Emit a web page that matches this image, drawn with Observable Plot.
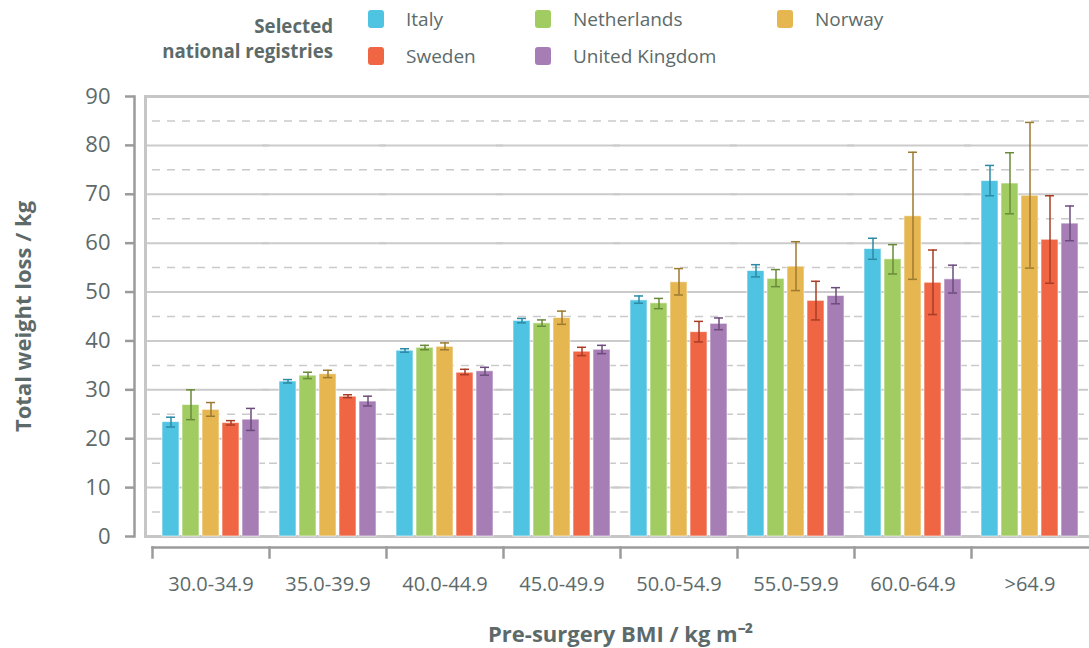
<!DOCTYPE html>
<html>
<head>
<meta charset="utf-8">
<script src="https://cdn.jsdelivr.net/npm/d3@7"></script>
<script src="https://cdn.jsdelivr.net/npm/@observablehq/plot@0.6"></script>
<style>
  body { margin: 0; background: #fff; font-family: "Open Sans", sans-serif; color: #5d6a6a; }
  #legend { position: relative; width: 1089px; height: 75px; }
  #legend .title { position: absolute; right: 756px; top: 13px; text-align: right; font-weight: bold; font-size: 18.7px; line-height: 25px; white-space: nowrap; }
  #legend .items { position: absolute; left: 368px; top: 8px; display: grid; grid-template-columns: 167px 242px auto; row-gap: 15px; }
  #legend .item { display: flex; align-items: center; height: 22px; font-size: 19px; white-space: nowrap; }
  #legend .sw { width: 16px; height: 18px; border-radius: 3px; margin-right: 22px; flex: none; }
  #chart svg { display: block; }
</style>
</head>
<body>
<div id="legend"></div>
<div id="chart"></div>
<script>
// ---- data ----
const categories = ["30.0-34.9", "35.0-39.9", "40.0-44.9", "45.0-49.9", "50.0-54.9", "55.0-59.9", "60.0-64.9", ">64.9"];
const countries = ["Italy", "Netherlands", "Norway", "Sweden", "United Kingdom"];
const colors = ["#4fc3e2", "#a1cc62", "#e6b651", "#f06543", "#a67db5"];
const errColors = ["#2b8aa6", "#6a8a3b", "#9c7a2f", "#a83c25", "#6c4c7c"];

const italy       = [23.4, 31.7, 38.0, 44.1, 48.3, 54.3, 58.8, 72.7];
const italyLo     = [22.4, 31.4, 37.7, 43.7, 47.7, 53.1, 56.7, 69.7];
const italyHi     = [24.4, 32.1, 38.4, 44.6, 49.2, 55.6, 61.0, 75.9];

const netherlands   = [26.9, 32.9, 38.6, 43.6, 47.7, 52.7, 56.7, 72.2];
const netherlandsLo = [23.9, 32.3, 38.2, 43.0, 46.6, 51.1, 53.7, 66.0];
const netherlandsHi = [30.0, 33.6, 39.1, 44.3, 48.7, 54.6, 59.7, 78.5];

const norway      = [25.9, 33.2, 38.8, 44.7, 52.0, 55.2, 65.5, 69.7];
const norwayLo    = [24.6, 32.5, 38.2, 43.4, 49.4, 50.3, 52.6, 54.9];
const norwayHi    = [27.4, 34.0, 39.6, 46.1, 54.8, 60.3, 78.6, 84.7];

const sweden      = [23.2, 28.6, 33.5, 37.8, 41.8, 48.2, 51.9, 60.7];
const swedenLo    = [22.8, 28.4, 33.1, 37.0, 39.8, 44.3, 45.4, 51.8];
const swedenHi    = [23.7, 29.0, 34.2, 38.7, 44.0, 52.2, 58.6, 69.7];

const uk          = [23.9, 27.6, 33.8, 38.2, 43.5, 49.2, 52.6, 64.0];
const ukLo        = [21.7, 26.7, 33.0, 37.4, 42.3, 47.6, 49.8, 60.5];
const ukHi        = [26.2, 28.7, 34.6, 39.1, 44.7, 50.9, 55.5, 67.6];

const yTicks = [0, 10, 20, 30, 40, 50, 60, 70, 80, 90];
const yMinorTicks = [5, 15, 25, 35, 45, 55, 65, 75, 85];
const legendTitle = ["Selected", "national registries"];
const yLabel = "Total weight loss / kg";
const xLabel = "Pre-surgery BMI / kg m\u207B\u00B2";

// ---- table ----
const series = [
  [italy, italyLo, italyHi],
  [netherlands, netherlandsLo, netherlandsHi],
  [norway, norwayLo, norwayHi],
  [sweden, swedenLo, swedenHi],
  [uk, ukLo, ukHi]
];
const table = [];
categories.forEach((cat, ci) => {
  countries.forEach((country, k) => {
    table.push({cat, country, value: series[k][0][ci], lo: series[k][1][ci], hi: series[k][2][ci]});
  });
});

// ---- legend ----
const legend = d3.select("#legend");
legend.append("div").attr("class", "title").html(legendTitle.join("<br>"));
const items = legend.append("div").attr("class", "items");
countries.forEach((c, k) => {
  const it = items.append("div").attr("class", "item");
  it.append("div").attr("class", "sw").style("background", colors[k]);
  it.append("span").text(c);
});

// ---- chart ----
const W = 1089, H = 573, mt = 21, mb = 112, ml = 151, mr = 0;
const plotH = H - mt - mb;
const axisGray = "#9b9b9b";
const textGray = "#5d6a6a";

const errMarks = countries.flatMap((c, k) => {
  const rows = table.filter(d => d.country === c);
  return [
    Plot.ruleX(rows, {fx: "cat", x: "country", y1: "lo", y2: "hi", stroke: errColors[k], strokeWidth: 1.5}),
    Plot.tickY(rows, {fx: "cat", x: "country", y: "hi", stroke: errColors[k], strokeWidth: 1.5, insetLeft: 4, insetRight: 4}),
    Plot.tickY(rows, {fx: "cat", x: "country", y: "lo", stroke: errColors[k], strokeWidth: 1.5, insetLeft: 4, insetRight: 4})
  ];
});

const chart = Plot.plot({
  width: W, height: H,
  marginTop: mt, marginBottom: mb, marginLeft: ml, marginRight: mr,
  style: {fontFamily: "'Open Sans', sans-serif", color: textGray, background: "transparent", overflow: "visible"},
  fx: {domain: categories, padding: 0, label: null},
  x: {domain: countries, paddingInner: 0.13, paddingOuter: 0.4, axis: null},
  y: {domain: [0, 90], axis: null},
  color: {domain: countries, range: colors},
  marks: [
    Plot.ruleY(yMinorTicks, {stroke: "#cacaca", strokeWidth: 1.5, strokeDasharray: "8,7"}),
    Plot.ruleY(yTicks.slice(1, -1), {stroke: "#cbcbcb", strokeWidth: 2, insetLeft: -7}),
    Plot.frame({facet: "super", stroke: "#c6c6c6", strokeWidth: 3, insetLeft: -7, insetRight: -10}),
    Plot.barY(table, {fx: "cat", x: "country", y: "value", fill: "country", stroke: "white", strokeOpacity: 0.6, strokeWidth: 1}),
    ...errMarks,
    // y axis
    Plot.frame({facet: "super", anchor: "left", dx: -18, stroke: axisGray, strokeWidth: 2.5}),
    Plot.axisY({ticks: yTicks, tickSize: 9, tickPadding: 15, dx: -18, fontSize: 22, label: null, stroke: axisGray, strokeWidth: 2.5, fill: textGray}),
    // x axis
    Plot.frame({facet: "super", anchor: "bottom", dy: 11, stroke: axisGray, strokeWidth: 2.5}),
    Plot.frame({anchor: "left", insetTop: plotH + 11, insetBottom: -21, stroke: axisGray, strokeWidth: 2.5}),
    Plot.axisFx({anchor: "bottom", tickSize: 0, tickPadding: 40, fontSize: 20, label: null, fill: textGray}),
    // axis titles
    Plot.text([yLabel], {facet: "super", text: d => d, frameAnchor: "left", textAnchor: "middle", rotate: -90, dx: -129, fontSize: 22, fontWeight: "bold", fill: textGray}),
    Plot.text([xLabel], {facet: "super", text: d => d, frameAnchor: "bottom", textAnchor: "middle", lineAnchor: "middle", dy: 98, fontSize: 22, fontWeight: "bold", fill: textGray})
  ]
});
document.getElementById("chart").appendChild(chart);
</script>
</body>
</html>
